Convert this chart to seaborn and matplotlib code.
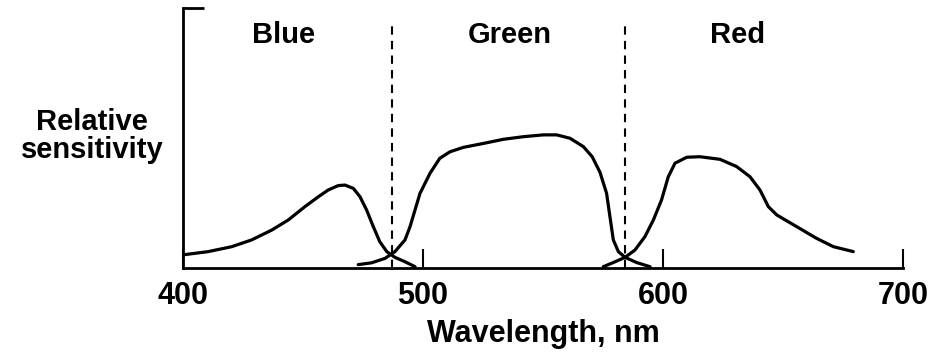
import matplotlib
matplotlib.use("Agg")
import matplotlib.pyplot as plt
import seaborn as sns
import pandas as pd

# ========= DATA =========
blue_nm = [399.5, 410.5, 420.3, 428.6, 437, 443.9, 450.8, 456.4, 460.5, 464.7, 467.5,
           471, 473.75, 476.5, 479.3, 482, 484.9, 488.3, 492.5, 496.7]
blue_sens = [0.050, 0.063, 0.082, 0.108, 0.146, 0.185, 0.236, 0.274, 0.300, 0.317, 0.319,
             0.306, 0.274, 0.223, 0.159, 0.101, 0.063, 0.041, 0.024, 0.005]

green_nm = [473, 478.6, 484.2, 488.3, 492.5, 494.6, 498.75, 502.9, 507, 511.25, 516.8,
            525.1, 533.5, 541.8, 550.1, 555.7, 561.25, 566.8, 570.5, 573.75, 576.5,
            577.9, 579.3, 581.4, 584.2, 589, 594.6]
green_sens = [0.013, 0.020, 0.037, 0.063, 0.108, 0.159, 0.287, 0.364, 0.422, 0.447, 0.464,
              0.479, 0.495, 0.505, 0.512, 0.512, 0.499, 0.467, 0.428, 0.368, 0.287,
              0.197, 0.108, 0.063, 0.041, 0.021, 0.005]

red_nm = [575.1, 579.3, 584.2, 588.3, 592.5, 596, 599.4, 602.2, 605, 609.9, 615.4, 623.75,
          630.7, 636.25, 640.4, 643.9, 647.4, 655.7, 664, 671, 679.3]
red_sens = [0.005, 0.021, 0.041, 0.069, 0.121, 0.185, 0.262, 0.351, 0.403, 0.426, 0.428,
            0.418, 0.390, 0.351, 0.300, 0.236, 0.204, 0.159, 0.114, 0.082, 0.063]

boundaries = [487, 584]
band_names = ["Blue", "Green", "Red"]
band_centers = [442, 536, 631]
xticks = [400, 500, 600, 700]

# ========= PLOT =========
sns.set_style("ticks", {"axes.edgecolor": "black", "text.color": "black",
                        "xtick.color": "black", "ytick.color": "black",
                        "axes.labelcolor": "black"})
plt.rcParams["font.family"] = ["Liberation Sans", "DejaVu Sans"]
plt.rcParams["font.weight"] = "bold"

fig = plt.figure(figsize=(9.31, 3.52), dpi=100)
ax = fig.add_axes([183 / 931, 1 - 268 / 352, 720 / 931, 260 / 352])

for nm, sens in [(blue_nm, blue_sens), (green_nm, green_sens), (red_nm, red_sens)]:
    df = pd.DataFrame({"nm": nm, "sens": sens})
    sns.lineplot(data=df, x="nm", y="sens", ax=ax, color="black", lw=2.3, sort=False)

for b in boundaries:
    ax.plot([b, b], [0, 0.946], color="black", lw=1.5, ls=(0, (4, 3)))

for name, c in zip(band_names, band_centers):
    ax.text(c, 0.895, name, ha="center", va="center", fontsize=21, fontweight="bold")

ax.set_xlim(400, 700)
ax.set_ylim(0, 1)
sns.despine(ax=ax, top=True, right=True)
for s in ["left", "bottom"]:
    ax.spines[s].set_linewidth(2)

ax.set_xticks(xticks)
ax.set_xticklabels([str(t) for t in xticks])
ax.set_yticks([1])
ax.set_yticklabels([""])
ax.tick_params(axis="x", direction="in", length=14, width=1.5, pad=9, labelsize=22)
ax.tick_params(axis="y", direction="in", length=15, width=2)

ax.set_xlabel("Wavelength, nm", fontsize=22, fontweight="bold", labelpad=6)
ax.set_ylabel("Relative\nsensitivity", fontsize=21, fontweight="bold",
              rotation=0, ha="center", va="center", linespacing=1.0)
ax.yaxis.set_label_coords(-0.126, 0.508)

fig.savefig("out.png", dpi=100)
